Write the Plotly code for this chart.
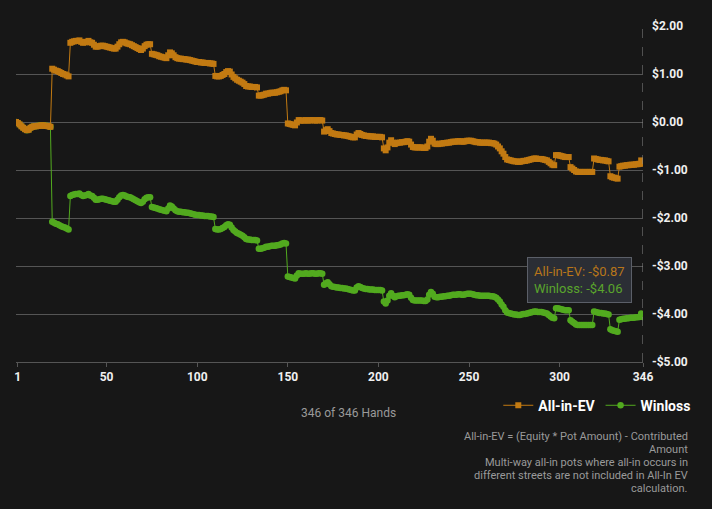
import plotly.graph_objects as go

# -----------------------------
# Data
# -----------------------------
hands = list(range(0, 347))

winloss = [
    0.00, -0.02, -0.05, -0.09, -0.12, -0.15, -0.17, -0.16, -0.12, -0.10,
    -0.09, -0.09, -0.08, -0.08, -0.07, -0.07, -0.08, -0.08, -0.09, -0.10,
    -2.08, -2.10, -2.12, -2.13, -2.15, -2.17, -2.19, -2.20, -2.22, -2.24,
    -1.54, -1.52, -1.51, -1.50, -1.50, -1.49, -1.52, -1.54, -1.53, -1.52,
    -1.50, -1.53, -1.54, -1.58, -1.62, -1.62, -1.61, -1.60, -1.60, -1.61,
    -1.62, -1.63, -1.64, -1.65, -1.66, -1.66, -1.62, -1.57, -1.53, -1.52,
    -1.53, -1.55, -1.56, -1.57, -1.59, -1.61, -1.63, -1.65, -1.67, -1.69,
    -1.66, -1.61, -1.58, -1.57, -1.57, -1.77, -1.78, -1.79, -1.80, -1.82,
    -1.83, -1.84, -1.85, -1.86, -1.80, -1.74, -1.76, -1.80, -1.84, -1.86,
    -1.87, -1.87, -1.88, -1.88, -1.89, -1.89, -1.90, -1.91, -1.92, -1.93,
    -1.94, -1.94, -1.95, -1.95, -1.96, -1.96, -1.96, -1.97, -1.97, -1.98,
    -2.23, -2.24, -2.24, -2.23, -2.21, -2.19, -2.15, -2.13, -2.14, -2.20,
    -2.25, -2.28, -2.31, -2.33, -2.35, -2.37, -2.40, -2.44, -2.45, -2.45,
    -2.46, -2.46, -2.46, -2.47, -2.64, -2.64, -2.63, -2.62, -2.60, -2.60,
    -2.59, -2.58, -2.58, -2.58, -2.57, -2.56, -2.55, -2.53, -2.52, -2.53,
    -3.22, -3.23, -3.24, -3.25, -3.26, -3.20, -3.15, -3.16, -3.16, -3.16,
    -3.15, -3.16, -3.16, -3.15, -3.15, -3.16, -3.16, -3.15, -3.15, -3.16,
    -3.39, -3.36, -3.34, -3.38, -3.42, -3.43, -3.44, -3.45, -3.45, -3.46,
    -3.46, -3.47, -3.47, -3.48, -3.49, -3.50, -3.51, -3.51, -3.45, -3.42,
    -3.44, -3.46, -3.47, -3.48, -3.48, -3.49, -3.49, -3.49, -3.50, -3.50,
    -3.50, -3.50, -3.51, -3.74, -3.78, -3.72, -3.62, -3.57, -3.62, -3.65,
    -3.63, -3.62, -3.62, -3.61, -3.61, -3.60, -3.59, -3.60, -3.66, -3.71,
    -3.72, -3.72, -3.72, -3.72, -3.72, -3.73, -3.73, -3.70, -3.60, -3.54,
    -3.58, -3.64, -3.65, -3.65, -3.64, -3.64, -3.63, -3.63, -3.62, -3.62,
    -3.61, -3.60, -3.60, -3.60, -3.59, -3.59, -3.60, -3.60, -3.59, -3.58,
    -3.58, -3.58, -3.59, -3.60, -3.61, -3.61, -3.62, -3.62, -3.62, -3.62,
    -3.62, -3.62, -3.63, -3.63, -3.64, -3.66, -3.70, -3.74, -3.80, -3.85,
    -3.92, -3.97, -3.98, -3.99, -4.00, -4.01, -4.01, -4.02, -4.02, -4.01,
    -4.00, -4.00, -3.99, -3.98, -3.97, -3.96, -3.95, -3.95, -3.96, -3.96,
    -3.96, -3.97, -3.98, -3.99, -4.02, -4.05, -4.08, -4.09, -3.88, -3.88,
    -3.89, -3.90, -3.91, -3.92, -3.92, -3.92, -4.13, -4.16, -4.19, -4.22,
    -4.23, -4.23, -4.23, -4.23, -4.23, -4.23, -4.23, -4.23, -4.23, -3.95,
    -3.96, -3.97, -3.98, -3.98, -3.99, -3.99, -4.00, -4.01, -4.32, -4.34,
    -4.35, -4.36, -4.37, -4.12, -4.11, -4.10, -4.10, -4.09, -4.09, -4.08,
    -4.08, -4.08, -4.07, -4.07, -4.06, -3.99, -4.06,
]

allin_ev = [
    0.00, -0.02, -0.05, -0.09, -0.12, -0.15, -0.17, -0.16, -0.12, -0.10,
    -0.09, -0.09, -0.08, -0.08, -0.07, -0.07, -0.08, -0.08, -0.09, -0.10,
    1.11, 1.09, 1.07, 1.06, 1.04, 1.02, 1.00, 0.99, 0.97, 0.95,
    1.65, 1.67, 1.68, 1.69, 1.69, 1.70, 1.67, 1.65, 1.66, 1.67,
    1.69, 1.66, 1.65, 1.61, 1.57, 1.57, 1.58, 1.59, 1.59, 1.58,
    1.57, 1.56, 1.55, 1.54, 1.53, 1.53, 1.57, 1.62, 1.66, 1.67,
    1.66, 1.64, 1.63, 1.62, 1.60, 1.58, 1.56, 1.54, 1.52, 1.50,
    1.53, 1.58, 1.61, 1.62, 1.62, 1.42, 1.41, 1.40, 1.39, 1.37,
    1.36, 1.35, 1.34, 1.33, 1.39, 1.45, 1.43, 1.39, 1.35, 1.33,
    1.32, 1.32, 1.31, 1.31, 1.30, 1.30, 1.29, 1.28, 1.27, 1.26,
    1.25, 1.25, 1.24, 1.24, 1.23, 1.23, 1.23, 1.22, 1.22, 1.21,
    0.96, 0.95, 0.95, 0.96, 0.98, 1.00, 1.04, 1.06, 1.05, 0.99,
    0.94, 0.91, 0.88, 0.86, 0.84, 0.82, 0.79, 0.75, 0.74, 0.74,
    0.73, 0.73, 0.73, 0.72, 0.55, 0.55, 0.56, 0.57, 0.59, 0.59,
    0.60, 0.61, 0.61, 0.61, 0.62, 0.63, 0.64, 0.66, 0.67, 0.66,
    -0.03, -0.04, -0.05, -0.06, -0.07, -0.01, 0.04, 0.03, 0.03, 0.03,
    0.04, 0.03, 0.03, 0.04, 0.04, 0.03, 0.03, 0.04, 0.04, 0.03,
    -0.20, -0.17, -0.15, -0.19, -0.23, -0.24, -0.25, -0.26, -0.26, -0.27,
    -0.27, -0.28, -0.28, -0.29, -0.30, -0.31, -0.32, -0.32, -0.26, -0.23,
    -0.25, -0.27, -0.28, -0.29, -0.29, -0.30, -0.30, -0.30, -0.31, -0.31,
    -0.31, -0.31, -0.32, -0.55, -0.59, -0.53, -0.43, -0.38, -0.43, -0.46,
    -0.44, -0.43, -0.43, -0.42, -0.42, -0.41, -0.40, -0.41, -0.47, -0.52,
    -0.53, -0.53, -0.53, -0.53, -0.53, -0.54, -0.54, -0.51, -0.41, -0.35,
    -0.39, -0.45, -0.46, -0.46, -0.45, -0.45, -0.44, -0.44, -0.43, -0.43,
    -0.42, -0.41, -0.41, -0.41, -0.40, -0.40, -0.41, -0.41, -0.40, -0.39,
    -0.39, -0.39, -0.40, -0.41, -0.42, -0.42, -0.43, -0.43, -0.43, -0.43,
    -0.43, -0.43, -0.44, -0.44, -0.45, -0.47, -0.51, -0.55, -0.61, -0.66,
    -0.73, -0.78, -0.79, -0.80, -0.81, -0.82, -0.82, -0.83, -0.83, -0.82,
    -0.81, -0.81, -0.80, -0.79, -0.78, -0.77, -0.76, -0.76, -0.77, -0.77,
    -0.77, -0.78, -0.79, -0.80, -0.83, -0.86, -0.89, -0.90, -0.69, -0.69,
    -0.70, -0.71, -0.72, -0.73, -0.73, -0.73, -0.94, -0.97, -1.00, -1.03,
    -1.04, -1.04, -1.04, -1.04, -1.04, -1.04, -1.04, -1.04, -1.04, -0.76,
    -0.77, -0.78, -0.79, -0.79, -0.80, -0.80, -0.81, -0.82, -1.13, -1.15,
    -1.16, -1.17, -1.18, -0.93, -0.92, -0.91, -0.91, -0.90, -0.90, -0.89,
    -0.89, -0.89, -0.88, -0.88, -0.87, -0.80, -0.87,
]

x_tick_vals = [1, 50, 100, 150, 200, 250, 300, 346]
x_tick_text = ["1", "50", "100", "150", "200", "250", "300", "346"]
y_tick_vals = [2, 1, 0, -1, -2, -3, -4, -5]
y_tick_text = ["$2.00", "$1.00", "$0.00", "-$1.00", "-$2.00", "-$3.00", "-$4.00", "-$5.00"]

note_lines = [
    "All-in-EV = (Equity * Pot Amount) - Contributed",
    "Amount",
    "Multi-way all-in pots where all-in occurs in",
    "different streets are not included in All-In EV",
    "calculation.",
]

ORANGE = "#c27a12"
GREEN = "#52aa1f"
BG = "#171717"


def money(v):
    return ("-$%.2f" % abs(v)) if v < 0 else ("$%.2f" % v)


fig = go.Figure()

fig.add_trace(go.Scatter(
    x=hands, y=winloss, name="Winloss", mode="lines+markers",
    line=dict(color=GREEN, width=1),
    marker=dict(symbol="circle", size=6.5, color=GREEN),
))
fig.add_trace(go.Scatter(
    x=hands, y=allin_ev, name="All-in-EV", mode="lines+markers",
    line=dict(color=ORANGE, width=1),
    marker=dict(symbol="square", size=6, color=ORANGE),
))

# crosshair at the last hand
fig.add_shape(type="line", x0=hands[-1], x1=hands[-1], y0=0, y1=1.01,
              xref="x", yref="paper",
              line=dict(color="#8a8a8a", width=1, dash="dash"))

# tooltip box
tip = ("<span style='color:%s'>All-in-EV: %s</span><br>"
       "<span style='color:%s'>Winloss: %s</span>") % (
    "#b8761a", money(allin_ev[-1]), "#5aa52c", money(winloss[-1]))
fig.add_annotation(
    text=tip, xref="paper", yref="paper", x=0.815, y=0.3125,
    xanchor="left", yanchor="top", showarrow=False, align="left",
    font=dict(family="Roboto", size=13),
    bgcolor="#2b2e35", bordercolor="#5b5f68", borderwidth=1, borderpad=6,
)

fig.add_annotation(
    text="346 of 346 Hands", xref="paper", yref="paper", x=0.53, y=-0.152,
    xanchor="center", yanchor="middle", showarrow=False,
    font=dict(family="Roboto", size=12, color="#9a9a9a"),
)

# footnote, one line at a time (13 px apart)
for i, line in enumerate(note_lines):
    fig.add_annotation(
        text=line, xref="paper", yref="paper",
        x=1.075, y=-0.223 - i * 13 / 336,
        xanchor="right", yanchor="middle", showarrow=False,
        font=dict(family="Roboto", size=11, color="#9a9a9a"),
    )

fig.update_layout(
    width=712, height=509,
    paper_bgcolor=BG, plot_bgcolor=BG,
    margin=dict(l=16, r=69, t=26, b=147),
    showlegend=True,
    legend=dict(
        orientation="h", x=1.085, y=-0.13, xanchor="right", yanchor="middle",
        traceorder="reversed", itemwidth=30,
        font=dict(family="Roboto", size=14, color="#ffffff", weight="bold"),
        bgcolor="rgba(0,0,0,0)",
    ),
    hovermode=False,
)

fig.update_xaxes(
    range=[0, 346], tickvals=x_tick_vals, ticktext=x_tick_text,
    showgrid=False, zeroline=False,
    showline=True, linecolor="#555555", linewidth=1,
    ticks="outside", ticklen=4, tickcolor="#555555",
    tickfont=dict(family="Roboto", size=12, color="#f0f0f0", weight="bold"),
)
fig.update_yaxes(
    range=[-5, 2], side="right", tickvals=y_tick_vals, ticktext=y_tick_text,
    showgrid=True, gridcolor="#555555", gridwidth=1, zeroline=False,
    ticks="", ticklabelstandoff=8,
    tickfont=dict(family="Roboto", size=12, color="#f0f0f0", weight="bold"),
)

fig.write_html(
    "out.html",
    config={"displayModeBar": False},
    post_script="document.body.style.margin='0';document.body.style.background='%s';" % BG,
)
